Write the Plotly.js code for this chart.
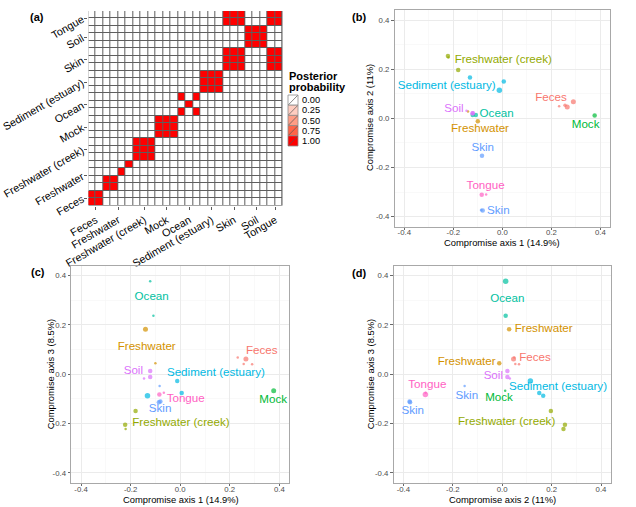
<!DOCTYPE html>
<html><head><meta charset="utf-8">
<script src="https://cdn.plot.ly/plotly-3.0.1.min.js"></script>
<style>html,body{margin:0;padding:0;background:#fff}#chart{width:636px;height:507px}</style>
</head><body><div id="chart"></div>
<script>
const FONT = 'Liberation Sans, Arial, sans-serif';

// ---------- Panel (a): co-clustering posterior probability ----------
const groupNames = ['Feces','Freshwater','Freshwater (creek)','Mock','Ocean','Sediment (estuary)','Skin','Soil','Tongue'];
const groupColors = ['#F8766D','#D39200','#93AA00','#00BA38','#00C19F','#00B9E3','#619CFF','#DB72FB','#FF61C3'];
const heatSampleGroup = ['Feces','Feces','Freshwater','Freshwater','Freshwater','Freshwater',
  'Freshwater (creek)','Freshwater (creek)','Freshwater (creek)','Mock','Mock','Mock',
  'Ocean','Ocean','Ocean','Sediment (estuary)','Sediment (estuary)','Sediment (estuary)',
  'Skin','Skin','Skin','Soil','Soil','Soil','Tongue','Tongue'];
const heatCluster = [1,1,2,2,3,4,5,5,5,6,6,6,7,8,7,9,9,9,10,10,10,11,11,11,10,10];
const legendLevels = ['0.00','0.25','0.50','0.75','1.00'];
const legendColors = ['#FFFFFF','#FFCDC0','#FF9D85','#FF6448','#FF0000'];

// ---------- Panels (b)-(d): compromise coordinates ----------
const sampleGroup = ['Feces','Feces','Feces','Feces','Freshwater','Freshwater',
  'Freshwater (creek)','Freshwater (creek)','Freshwater (creek)','Mock','Ocean','Ocean',
  'Sediment (estuary)','Sediment (estuary)','Sediment (estuary)','Skin','Skin','Skin',
  'Soil','Soil','Soil','Tongue','Tongue'];
const axis1 = [0.265,0.232,0.256,0.290,-0.140,-0.100,-0.180,-0.222,-0.220,0.377,-0.121,-0.108,-0.012,0.006,-0.132,-0.083,-0.080,-0.086,-0.121,-0.121,-0.146,-0.084,-0.066];
const axis2 = [0.046,0.049,0.053,0.068,0.028,-0.012,0.197,0.254,0.248,0.012,0.014,0.014,0.114,0.150,0.166,-0.152,-0.375,-0.373,0.021,0.021,0.031,-0.311,-0.310];
const axis3 = [0.062,0.068,0.042,0.041,0.183,0.045,-0.149,-0.205,-0.222,-0.067,0.377,0.237,-0.027,-0.076,-0.087,-0.047,-0.110,-0.113,0.013,-0.011,-0.017,-0.082,-0.075];
const sizeB = [5,2.5,3.5,5,2.5,4.5,4.5,4.5,2.5,4.5,4.5,4.5,5.5,4.5,4.5,4.5,4.5,3,4.5,4.5,2.5,4.5,2.5];
const sizeC = [5,2.5,2.5,2.5,5,2.5,4.5,4.5,2.5,5,2.5,2.5,4.5,4.5,5.5,2.5,4.5,4.5,4.5,4.5,2.5,4.5,2.5];
const sizeD = [5,2.5,2.5,2.5,4.5,4.5,4.5,4.5,4.5,2.5,5.5,4.5,5.5,4.5,4.5,2.5,4.5,4.5,4.5,4.5,2.5,5.5,2.5];

const labelsB = ['Freshwater (creek)','Sediment (estuary)','Feces','Soil','Ocean','Freshwater','Mock','Skin','Tongue','Skin'];
const labelsB_x = [0.004,-0.227,0.199,-0.197,-0.023,-0.091,0.340,-0.080,-0.068,-0.016];
const labelsB_y = [0.236,0.133,0.083,0.037,0.019,-0.042,-0.029,-0.121,-0.275,-0.377];
const labelsC = ['Ocean','Freshwater','Feces','Soil','Sediment (estuary)','Tongue','Skin','Freshwater (creek)','Mock'];
const labelsC_x = [-0.115,-0.135,0.329,-0.189,0.144,0.022,-0.081,0.003,0.375];
const labelsC_y = [0.311,0.112,0.092,0.011,0.004,-0.100,-0.142,-0.196,-0.104];
const labelsD = ['Ocean','Freshwater','Freshwater','Feces','Soil','Sediment (estuary)','Tongue','Skin','Mock','Skin','Freshwater (creek)'];
const labelsD_x = [0.021,0.168,-0.144,0.133,-0.036,0.226,-0.303,-0.143,-0.013,-0.362,0.018];
const labelsD_y = [0.304,0.182,0.051,0.065,-0.007,-0.050,-0.042,-0.087,-0.095,-0.148,-0.192];

const axisTickVals = [-0.4,-0.2,0,0.2,0.4];
const axisTickText = ['-0.4','-0.2','0.0','0.2','0.4'];

// ---------- build ----------
const W = 636, H = 507;
const px = v => v / W, py = v => 1 - v / H;
const colorOf = g => groupColors[groupNames.indexOf(g)];

const n = heatSampleGroup.length;
const idx = heatSampleGroup.map((_, i) => i);
const z = idx.map(i => idx.map(j => heatCluster[i] === heatCluster[j] ? 1 : 0));
const groupCenters = groupNames.map(g => {
  const ii = idx.filter(i => heatSampleGroup[i] === g);
  return (ii[0] + ii[ii.length - 1]) / 2;
});

const traces = [];
traces.push({type:'heatmap', z:z, x:idx, y:idx, xaxis:'x', yaxis:'y', zmin:0, zmax:1,
  colorscale:[[0,'#FFFFFF'],[1,'#FF0000']], showscale:false, xgap:1, ygap:1, hoverinfo:'skip'});

function pointTrace(xs, ys, sizes, xa, ya) {
  return {type:'scatter', mode:'markers', x:xs, y:ys, xaxis:xa, yaxis:ya, cliponaxis:false,
    marker:{color:sampleGroup.map(colorOf), size:sizes, line:{width:0}}, hoverinfo:'skip', showlegend:false};
}
function labelTrace(names, xs, ys, xa, ya) {
  return {type:'scatter', mode:'text', x:xs, y:ys, text:names, xaxis:xa, yaxis:ya, cliponaxis:false,
    textposition:'middle center', textfont:{family:FONT, size:11.6, color:names.map(colorOf)},
    hoverinfo:'skip', showlegend:false};
}
traces.push(pointTrace(axis1, axis2, sizeB, 'x2', 'y2'));
traces.push(labelTrace(labelsB, labelsB_x, labelsB_y, 'x2', 'y2'));
traces.push(pointTrace(axis1, axis3, sizeC, 'x3', 'y3'));
traces.push(labelTrace(labelsC, labelsC_x, labelsC_y, 'x3', 'y3'));
traces.push(pointTrace(axis2, axis3, sizeD, 'x4', 'y4'));
traces.push(labelTrace(labelsD, labelsD_x, labelsD_y, 'x4', 'y4'));

function scatterAxis(domain, anchor, isX) {
  return {domain:domain, anchor:anchor, range:[-0.44,0.44], automargin:false,
    tickmode:'array', tickvals:axisTickVals, ticktext:axisTickText,
    showgrid:true, gridcolor:'#ebebeb', gridwidth:1,
    minor:{tickmode:'linear', tick0:0.1, dtick:0.2, showgrid:true, gridcolor:'#f5f5f5', gridwidth:0.6, ticks:''},
    zeroline:false, showline:true, mirror:true, linecolor:'#a8a8a8', linewidth:1,
    ticks:'outside', ticklen:2.5, tickwidth:0.8, tickcolor:'#444',
    ticklabelstandoff: isX ? -4 : 0,
    tickfont:{family:FONT, size:7.8, color:'#4d4d4d'}};
}
function heatAxis(domain, anchor) {
  return {domain:domain, anchor:anchor, range:[-0.5, n - 0.5], automargin:false,
    tickmode:'array', tickvals:groupCenters, ticktext:groupNames, tickangle:-30,
    showgrid:false, zeroline:false, showline:false, ticks:'outside', ticklen:3, tickcolor:'#333', tickwidth:0.8,
    tickfont:{family:FONT, size:10.8, color:'#000'}};
}

const dB = {x:[px(394.5), px(610.1)], y:[py(226.5), py(10.2)]};
const dC = {x:[px(71.1), px(289.3)], y:[py(482.8), py(265.8)]};
const dD = {x:[px(393.5), px(610.9)], y:[py(482.8), py(265.8)]};
const dA = {x:[px(88.3), px(282.7)], y:[py(205.7), py(11)]};

const shapes = [{type:'rect', xref:'x', yref:'y', x0:-0.5, x1:n - 0.5, y0:-0.5, y1:n - 0.5,
  fillcolor:'#5e5e5e', line:{width:0}, layer:'below'}];
const annotations = [];
const sw = {x0:288, x1:298, top:95, h:10.2};
legendLevels.forEach((lv, i) => {
  const t = sw.top + i * sw.h, b = t + sw.h;
  shapes.push({type:'rect', xref:'paper', yref:'paper', x0:px(sw.x0), x1:px(sw.x1), y0:py(b), y1:py(t),
    fillcolor:legendColors[i], line:{color:'#8c8c8c', width:0.8}});
  shapes.push({type:'line', xref:'paper', yref:'paper', x0:px(sw.x0 + 0.5), x1:px(sw.x1 - 0.5), y0:py(b - 0.5), y1:py(t + 0.5),
    line:{color:'#555', width:0.7}});
  annotations.push({xref:'paper', yref:'paper', x:px(299.5), y:py((t + b) / 2), text:lv, showarrow:false,
    xanchor:'left', yanchor:'middle', font:{family:FONT, size:9.3, color:'#000'}});
});
[['Posterior',76],['probability',87]].forEach(p => {
  annotations.push({xref:'paper', yref:'paper', x:px(287), y:py(p[1]), text:'<b>' + p[0] + '</b>',
    showarrow:false, xanchor:'left', yanchor:'middle', font:{family:FONT, size:11, color:'#000'}});
});
[['(a)',37,17],['(b)',359,17],['(c)',38,272],['(d)',359,273]].forEach(p => {
  annotations.push({xref:'paper', yref:'paper', x:px(p[1]), y:py(p[2]), text:'<b>' + p[0] + '</b>', showarrow:false,
    xanchor:'center', yanchor:'middle', font:{family:FONT, size:11, color:'#000'}});
});
// axis titles
[['Compromise axis 1 (14.9%)',502,242,0],['Compromise axis 2 (11%)',370,118,-90],
 ['Compromise axis 1 (14.9%)',181,499,0],['Compromise axis 3 (8.5%)',50,374.3,-90],
 ['Compromise axis 2 (11%)',502.7,499,0],['Compromise axis 3 (8.5%)',370,374.3,-90]].forEach(p => {
  annotations.push({xref:'paper', yref:'paper', x:px(p[1]), y:py(p[2]), text:p[0], textangle:p[3], showarrow:false,
    xanchor:'center', yanchor:'middle', font:{family:FONT, size:9.4, color:'#000'}});
});

const layout = {
  width:W, height:H, margin:{l:0, r:0, t:0, b:0}, paper_bgcolor:'#fff', plot_bgcolor:'#fff',
  showlegend:false, font:{family:FONT},
  xaxis:heatAxis(dA.x, 'y'), yaxis:heatAxis(dA.y, 'x'),
  xaxis2:scatterAxis(dB.x, 'y2', true), yaxis2:scatterAxis(dB.y, 'x2', false),
  xaxis3:scatterAxis(dC.x, 'y3', true), yaxis3:scatterAxis(dC.y, 'x3', false),
  xaxis4:scatterAxis(dD.x, 'y4', true), yaxis4:scatterAxis(dD.y, 'x4', false),
  shapes:shapes, annotations:annotations
};
Plotly.newPlot('chart', traces, layout, {staticPlot:true, displayModeBar:false});
</script></body></html>
